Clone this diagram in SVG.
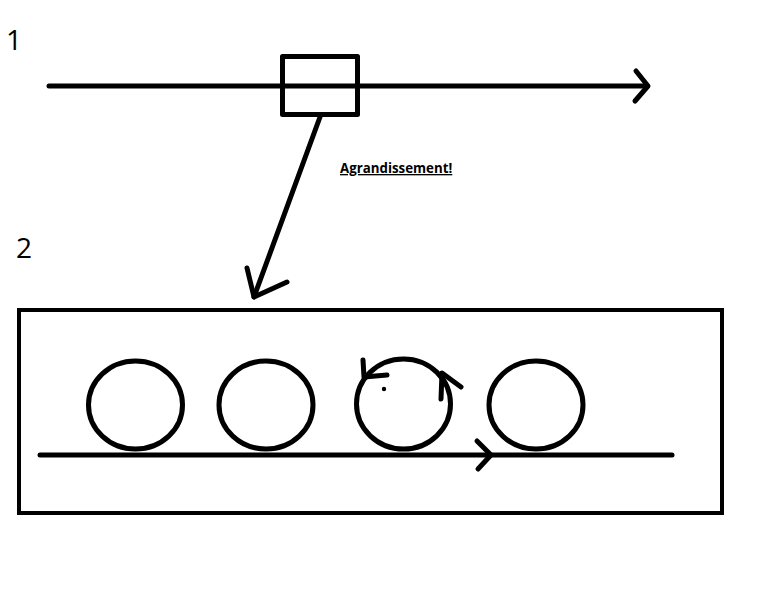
<svg xmlns="http://www.w3.org/2000/svg" width="768" height="614" viewBox="0 0 768 614">
<style>
.s{fill:none;stroke:#000;stroke-width:5;stroke-linecap:round;stroke-linejoin:round}
.num{font-family:"Open Sans","Liberation Sans",sans-serif;font-size:28px;fill:#000}
.lbl{font-family:"Open Sans","Liberation Sans",sans-serif;font-size:13.3px;font-weight:bold;fill:#000;text-decoration:underline}
</style>
<rect width="768" height="614" fill="#fff"/>
<text class="num" x="6" y="50">1</text>
<text class="num" x="16" y="258">2</text>
<g id="connectors">
<path class="s" d="M49 86 H647"/>
<path class="s" d="M636 71 L648 86 L635 101"/>
<path class="s" d="M320 117 L254 297"/>
<path class="s" d="M247 268 L254 297 L287 282"/>
<path class="s" d="M40 455 H672"/>
<path class="s" d="M477 441 L491 455 L478 469"/>
</g>
<g id="box1"><rect class="s" x="282.5" y="56.5" width="75" height="58" stroke-linecap="butt" stroke-linejoin="miter"/></g>
<g id="label"><text class="lbl" x="340" y="173">Agrandissement!</text></g>
<g id="box2"><rect x="19" y="310" width="703" height="203" fill="none" stroke="#000" stroke-width="4"/></g>
<g id="circle1"><ellipse class="s" cx="135.5" cy="405" rx="47" ry="44"/></g>
<g id="circle2"><ellipse class="s" cx="266" cy="405" rx="47" ry="44"/></g>
<g id="circle3">
<ellipse class="s" cx="403.5" cy="404" rx="47" ry="45"/>
<path class="s" d="M363 360 L364 377 L387 375"/>
<path class="s" d="M441 399 L442 373 L461 387"/>
<circle cx="384" cy="389" r="2.2" fill="#000"/>
</g>
<g id="circle4"><ellipse class="s" cx="536" cy="405" rx="47" ry="44"/></g>
</svg>
